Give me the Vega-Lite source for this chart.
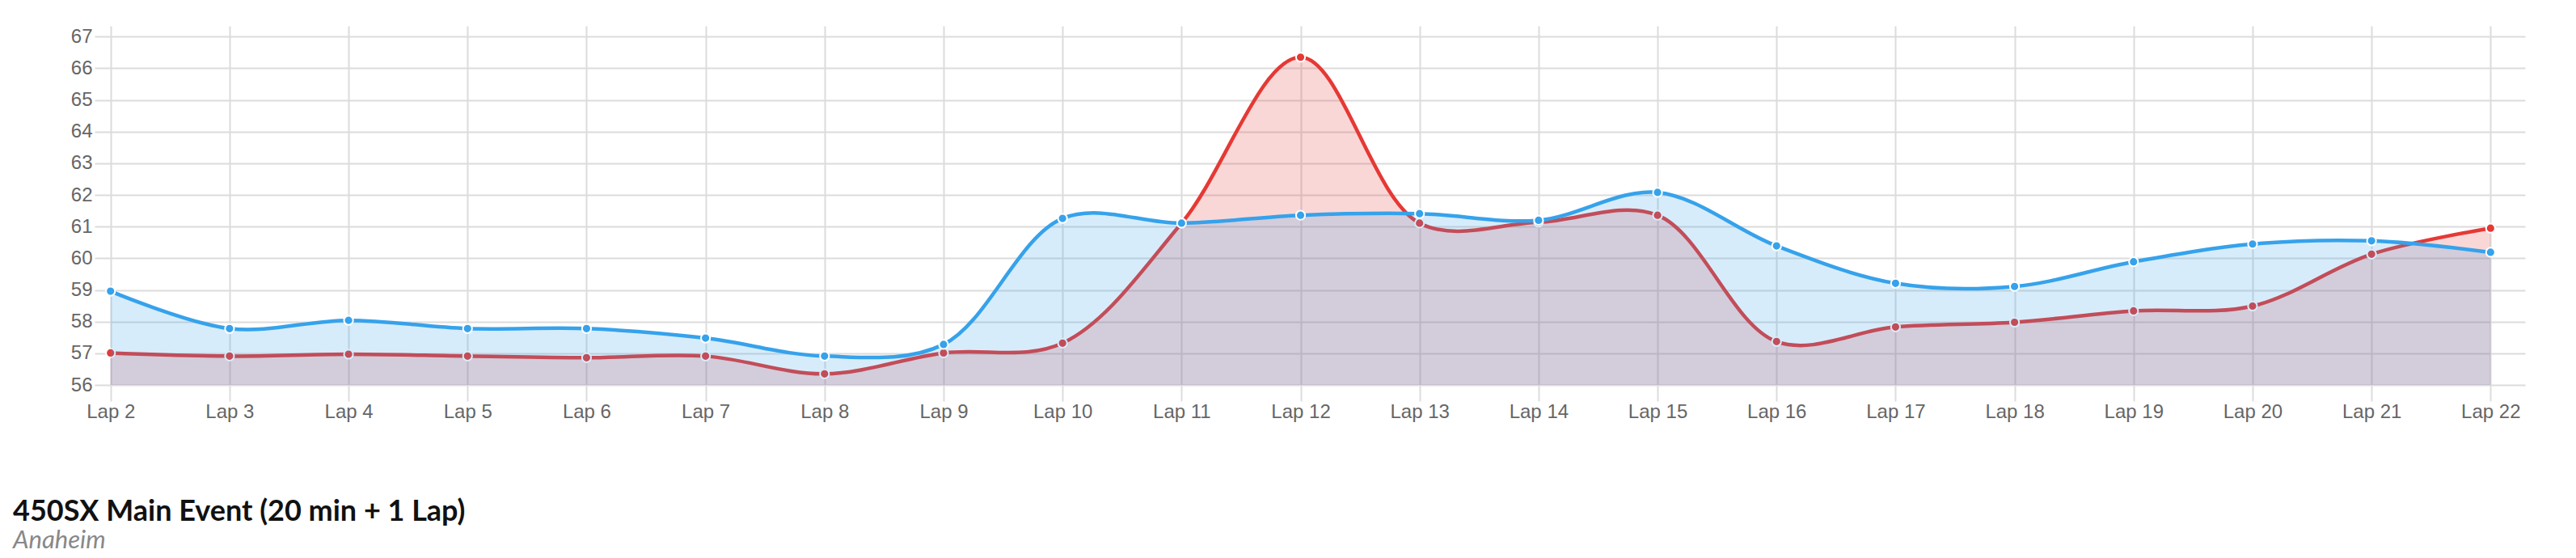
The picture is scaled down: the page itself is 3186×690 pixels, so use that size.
{
  "$schema": "https://vega.github.io/schema/vega-lite/v6.json",
  "width": 3006,
  "height": 444,
  "autosize": {"type": "none"},
  "padding": {"left": 117, "top": 32, "right": 63, "bottom": 214},
  "background": "white",
  "config": {"view": {"stroke": null}, "font": "Liberation Sans"},
  "title": {
    "text": "450SX Main Event (20 min + 1 Lap)",
    "subtitle": "Anaheim",
    "orient": "bottom",
    "anchor": "start",
    "frame": "group",
    "dx": -101,
    "offset": 95,
    "font": "Lato",
    "fontWeight": "bold",
    "fontSize": 36,
    "color": "#111111",
    "subtitleFont": "Lato",
    "subtitleFontStyle": "italic",
    "subtitleFontSize": 31,
    "subtitleColor": "#888888",
    "subtitlePadding": 2
  },
  "data": {
    "values": [
      {"lap": 2, "rider": "A", "time": 58.96}, {"lap": 3, "rider": "A", "time": 57.78}, {"lap": 4, "rider": "A", "time": 58.04},
      {"lap": 5, "rider": "A", "time": 57.78}, {"lap": 6, "rider": "A", "time": 57.78}, {"lap": 7, "rider": "A", "time": 57.48},
      {"lap": 8, "rider": "A", "time": 56.91}, {"lap": 9, "rider": "A", "time": 57.28}, {"lap": 10, "rider": "A", "time": 61.26},
      {"lap": 11, "rider": "A", "time": 61.11}, {"lap": 12, "rider": "A", "time": 61.36}, {"lap": 13, "rider": "A", "time": 61.41},
      {"lap": 14, "rider": "A", "time": 61.20}, {"lap": 15, "rider": "A", "time": 62.08}, {"lap": 16, "rider": "A", "time": 60.39},
      {"lap": 17, "rider": "A", "time": 59.21}, {"lap": 18, "rider": "A", "time": 59.11}, {"lap": 19, "rider": "A", "time": 59.89},
      {"lap": 20, "rider": "A", "time": 60.45}, {"lap": 21, "rider": "A", "time": 60.55}, {"lap": 22, "rider": "A", "time": 60.19},
      {"lap": 2, "rider": "B", "time": 57.01}, {"lap": 3, "rider": "B", "time": 56.91}, {"lap": 4, "rider": "B", "time": 56.97},
      {"lap": 5, "rider": "B", "time": 56.91}, {"lap": 6, "rider": "B", "time": 56.86}, {"lap": 7, "rider": "B", "time": 56.91},
      {"lap": 8, "rider": "B", "time": 56.35}, {"lap": 9, "rider": "B", "time": 57.01}, {"lap": 10, "rider": "B", "time": 57.32},
      {"lap": 11, "rider": "B", "time": 61.11}, {"lap": 12, "rider": "B", "time": 66.35}, {"lap": 13, "rider": "B", "time": 61.11},
      {"lap": 14, "rider": "B", "time": 61.14}, {"lap": 15, "rider": "B", "time": 61.36}, {"lap": 16, "rider": "B", "time": 57.37},
      {"lap": 17, "rider": "B", "time": 57.83}, {"lap": 18, "rider": "B", "time": 57.98}, {"lap": 19, "rider": "B", "time": 58.34},
      {"lap": 20, "rider": "B", "time": 58.49}, {"lap": 21, "rider": "B", "time": 60.13}, {"lap": 22, "rider": "B", "time": 60.95}
    ]
  },
  "encoding": {
    "x": {
      "field": "lap", "type": "quantitative",
      "scale": {"domain": [1.866, 22.29], "nice": false, "zero": false},
      "axis": {
        "values": [2, 3, 4, 5, 6, 7, 8, 9, 10, 11, 12, 13, 14, 15, 16, 17, 18, 19, 20, 21, 22],
        "labelExpr": "'Lap ' + datum.value",
        "title": null, "domain": false,
        "grid": true, "gridColor": "#dcdcdc", "gridWidth": 2,
        "ticks": true, "tickSize": 20, "tickColor": "#dcdcdc", "tickWidth": 2,
        "labelFont": "Liberation Sans", "labelFontSize": 24, "labelColor": "#666666",
        "labelPadding": 1, "labelFlush": false, "labelOverlap": false
      }
    },
    "y": {
      "field": "time", "type": "quantitative",
      "scale": {"domain": [56, 67.34], "nice": false, "zero": false},
      "axis": {
        "values": [56, 57, 58, 59, 60, 61, 62, 63, 64, 65, 66, 67],
        "title": null, "domain": false, "ticks": false,
        "grid": true, "gridColor": "#dcdcdc", "gridWidth": 2,
        "labelFont": "Liberation Sans", "labelFontSize": 24, "labelColor": "#666666",
        "labelPadding": 3, "labelOverlap": false
      }
    }
  },
  "layer": [
    {"transform": [{"filter": "datum.rider == 'B'"}], "mark": {"type": "area", "interpolate": "catmull-rom", "fill": "#e53935", "fillOpacity": 0.2}, "encoding": {"y2": {"datum": 56}}},
    {"transform": [{"filter": "datum.rider == 'B'"}], "mark": {"type": "line", "interpolate": "catmull-rom", "stroke": "#e53935", "strokeWidth": 4.5}},
    {"transform": [{"filter": "datum.rider == 'B'"}], "mark": {"type": "point", "filled": true, "fill": "#e53935", "stroke": "white", "strokeWidth": 2, "size": 125, "opacity": 1}},
    {"transform": [{"filter": "datum.rider == 'A'"}], "mark": {"type": "area", "interpolate": "catmull-rom", "fill": "#36a2eb", "fillOpacity": 0.2}, "encoding": {"y2": {"datum": 56}}},
    {"transform": [{"filter": "datum.rider == 'A'"}], "mark": {"type": "line", "interpolate": "catmull-rom", "stroke": "#36a2eb", "strokeWidth": 4.5}},
    {"transform": [{"filter": "datum.rider == 'A'"}], "mark": {"type": "point", "filled": true, "fill": "#36a2eb", "stroke": "white", "strokeWidth": 2, "size": 125, "opacity": 1}}
  ]
}
